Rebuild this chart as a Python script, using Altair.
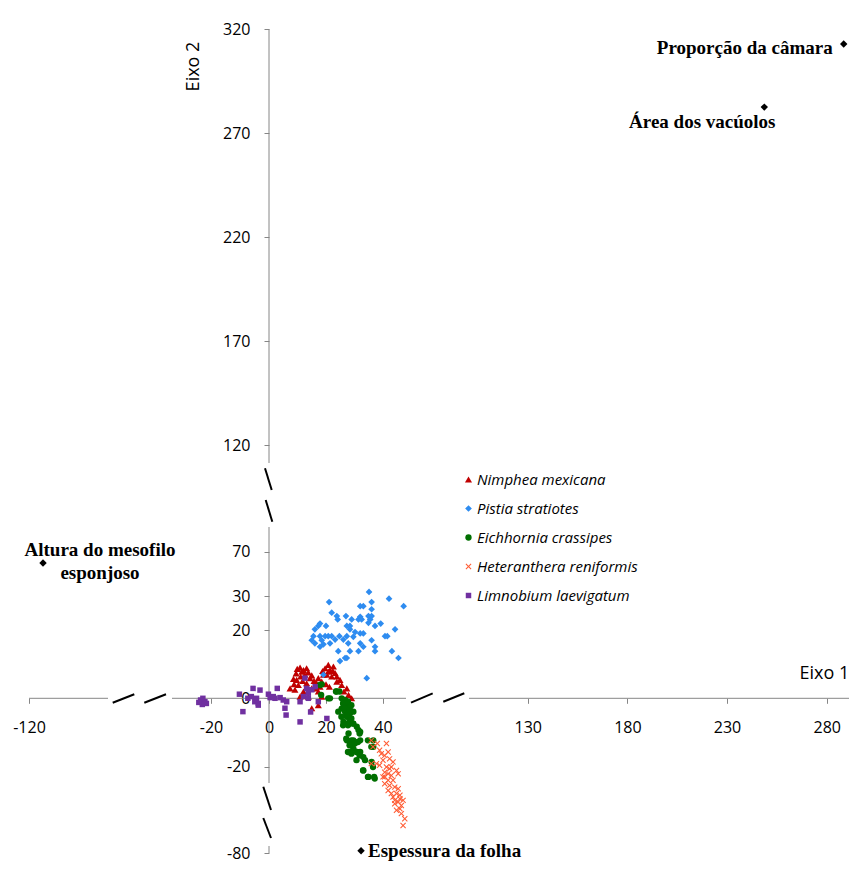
import altair as alt
import pandas as pd

# ---------------- data ----------------
species = ["Nimphea mexicana", "Pistia stratiotes", "Eichhornia crassipes",
           "Heteranthera reniformis", "Limnobium laevigatum"]
colors = ["#C00000", "#2E8CF0", "#006F00", "#FF5B33", "#7030A0"]

nimphea = [(9.9, 8.6), (10.9, 9.0), (12.1, 8.3), (9.5, 7.3), (12.6, 6.9), (11.1, 6.4), (13.8, 7.6),
           (14.4, 5.9), (15.8, 5.1), (16.7, 4.4), (8.8, 4.1), (10.3, 3.9), (13.2, 4.4), (15.0, 2.9),
           (16.5, 2.9), (17.9, 3.4), (12.1, 2.0), (10.9, 0.5), (13.8, 0.5), (17.3, 2.0), (15.0, -2.9),
           (17.3, -2.0), (18.8, 8.0), (19.7, 8.8), (20.8, 9.8), (21.4, 8.3), (22.6, 9.3), (20.3, 6.9),
           (22.0, 6.4), (23.2, 7.4), (23.8, 4.9), (24.9, 5.4), (25.5, 3.9), (27.3, 2.9), (26.3, 2.0),
           (27.9, 1.0), (29.0, 0.0), (21.2, 3.4), (20.0, 4.1), (18.5, 0.5), (8.6, 5.7), (7.4, 2.9),
           (9.1, 2.5), (11.5, 7.8), (13.2, 8.8), (15.0, 6.7), (19.1, 6.9), (20.8, 7.8), (22.4, 8.0),
           (23.8, 6.4), (9.7, 5.4), (11.8, 5.1), (18.5, 4.9), (17.3, 5.9)]

pistia = [(35.1, 31.2), (42.1, 29.2), (21.1, 28.2), (47.2, 27.0), (32.0, 27.0), (33.1, 27.0),
          (36.0, 28.2), (36.0, 26.1), (22.0, 25.1), (23.8, 24.1), (24.1, 23.1), (27.0, 24.1),
          (29.0, 23.1), (31.4, 23.1), (32.0, 23.9), (32.5, 23.1), (34.9, 24.1), (35.5, 23.1),
          (36.0, 24.1), (34.9, 22.1), (37.2, 21.2), (39.2, 21.9), (17.9, 21.9), (17.3, 21.2),
          (20.0, 21.2), (16.1, 20.2), (27.3, 21.2), (28.4, 21.2), (28.4, 20.2), (30.2, 19.4),
          (27.3, 18.2), (32.0, 19.0), (33.1, 19.0), (24.7, 18.2), (40.7, 18.2), (41.5, 18.2),
          (44.2, 20.2), (15.6, 18.2), (17.9, 18.2), (19.7, 18.2), (20.8, 18.2), (22.0, 18.2),
          (23.2, 17.2), (26.1, 17.2), (29.6, 18.0), (15.0, 17.0), (18.5, 17.0), (16.1, 16.1),
          (19.1, 15.8), (21.4, 16.1), (27.8, 16.1), (32.0, 16.1), (36.0, 17.0), (37.2, 15.1),
          (37.2, 13.8), (33.1, 15.1), (17.9, 15.1), (24.3, 13.8), (28.4, 13.8), (31.4, 13.8),
          (43.1, 13.8), (27.3, 11.8), (24.9, 10.9), (45.4, 11.8), (34.3, 5.9), (19.1, 6.9),
          (26.7, 11.8)]

eichhornia = [(17.9, 3.9), (18.3, 1.0), (20.8, 0.0), (23.5, 2.0), (24.7, 2.0), (25.5, 0.0), (26.7, -0.5),
              (18.5, 4.1), (21.4, 0.0), (23.7, 2.0), (26.1, -1.5), (27.3, -2.0), (28.4, -2.5), (25.5, -3.0),
              (24.3, -3.9), (26.7, -3.9), (28.4, -4.4), (29.6, -3.9), (27.3, -5.4), (28.4, -6.4),
              (26.1, -6.9), (27.3, -7.4), (28.4, -7.4), (29.6, -7.4), (30.8, -8.3), (31.4, -9.3),
              (32.0, -9.8), (27.3, -12.3), (28.4, -12.8), (29.6, -12.3), (30.8, -12.8), (32.0, -12.3),
              (28.4, -13.7), (29.6, -14.7), (28.4, -15.7), (30.8, -15.7), (32.0, -15.7), (33.1, -17.2),
              (33.7, -18.1), (36.6, -12.3), (36.6, -14.2), (36.0, -18.6), (33.1, -21.1), (34.9, -23.0),
              (36.9, -23.0), (26.0, -1.5), (27.7, -1.0), (28.9, -2.0), (26.6, -3.0), (28.3, -3.4),
              (27.1, -4.9), (25.4, -5.4), (28.9, -5.9), (29.5, -7.4), (27.7, -7.9), (26.0, -7.9),
              (27.9, -10.3), (31.8, -10.3), (27.1, -11.8), (28.9, -12.3), (30.1, -13.2), (28.3, -13.7),
              (31.2, -12.8), (27.7, -15.7), (28.9, -16.2), (30.7, -15.7), (31.8, -16.7), (30.7, -18.1),
              (34.7, -12.3), (35.9, -14.2), (33.0, -21.1), (36.5, -20.1), (34.7, -23.0), (37.1, -23.5)]

heteranthera = [(35.9, -12.3), (38.0, -13.2), (41.2, -13.2), (41.8, -15.7), (38.8, -15.2), (40.6, -16.7),
                (42.3, -17.7), (40.0, -18.1), (43.5, -18.6), (35.9, -19.1), (37.7, -19.1), (38.8, -19.6),
                (41.2, -20.1), (42.3, -20.6), (44.7, -21.1), (40.6, -21.6), (41.8, -22.1), (42.9, -22.6),
                (45.3, -22.1), (40.0, -23.0), (41.8, -24.0), (43.5, -24.0), (40.6, -25.0), (42.3, -25.5),
                (44.1, -26.0), (45.3, -26.5), (41.8, -27.0), (42.9, -27.9), (44.7, -27.9), (43.5, -28.9),
                (45.9, -29.4), (47.0, -29.9), (45.3, -30.4), (44.1, -30.9), (46.4, -31.4), (45.9, -32.4),
                (44.7, -32.8), (46.4, -33.8), (47.6, -35.3), (47.0, -37.3), (36.5, -14.2), (39.4, -16.2),
                (42.9, -20.1), (40.6, -23.0), (44.1, -29.9), (45.9, -28.4)]

limnobium = [(-23.6, -0.5), (-22.8, 0.0), (-22.1, -1.0), (-23.0, -1.8), (-21.6, -1.5), (-24.2, -1.2),
             (-5.5, 2.9), (-3.1, 2.4), (-10.2, 1.2), (-7.3, 0.0), (-6.1, 0.5), (-4.3, 0.0), (-3.7, -1.5),
             (-4.9, -1.0), (-9.0, -3.9), (-3.7, -2.0), (-0.2, 1.2), (0.4, 0.2), (2.1, 0.0), (2.9, 2.9),
             (3.9, 0.2), (5.0, -0.5), (6.2, -1.0), (5.6, -2.9), (6.0, -4.9), (1.5, 0.5), (10.9, -1.0),
             (12.1, 0.5), (13.2, 2.9), (13.8, 1.5), (15.0, 2.5), (16.2, 3.4), (12.6, 5.9), (10.9, -6.9),
             (17.3, -1.0), (20.3, -5.9), (13.8, 0.0), (14.6, -4.0)]

variables = ["Proporção da câmara", "Área dos vacúolos", "Altura do mesofilo\nesponjoso", "Espessura da folha"]
var_x = [288.5, 248.7, -111.4, 32.3]
var_y = [312.9, 282.6, 55.5, -75.0]

x_ticks = [-120, -20, 0, 20, 40, 130, 180, 230, 280]
y_ticks = [-80, -20, 0, 20, 30, 70, 120, 170, 220, 270, 320]

# ---------------- layout (broken axes as piecewise scales) ----------------
W, H = 841, 854
x_dom = [-130, -120, -35, -20, 0, 40, 55, 130, 280, 300]
x_rng = [4.7, 21, 159.5, 203, 261, 375, 418, 519.7, 818.7, 858.7]
y_dom = [-90, -80, -40, -20, 0, 20, 30, 35, 70, 120, 320, 335]
y_rng = [852, 845, 826.7, 758.7, 690.3, 622, 588, 571, 543.7, 437.3, 21.3, -9.9]

X0_PX = 261.0    # pixel of x = 0
Y0_PX = 690.3    # pixel of y = 0

shapes = ["triangle-up", "diamond", "circle",
          "M-1,-0.75L-0.75,-1L0,-0.25L0.75,-1L1,-0.75L0.25,0L1,0.75L0.75,1L0,0.25L-0.75,1L-1,0.75L-0.25,0Z",
          "square"]
sizes = [50, 30, 30, 50, 24]

rows = []
for name, pts in zip(species, [nimphea, pistia, eichhornia, heteranthera, limnobium]):
    for x, y in pts:
        rows.append({"x": x, "y": y, "species": name})
df = pd.DataFrame(rows)
vdf = pd.DataFrame({"x": var_x, "y": var_y, "label": variables})

FONT = "Open Sans"
LABEL = "'' + datum.value"
x_axis = alt.Axis(values=x_ticks, orient="bottom", offset=Y0_PX - H, domain=False, grid=False,
                  tickColor="#868686", tickSize=5, labelPadding=16, labelFont=FONT, labelFontSize=16,
                  labelColor="black", labelFlush=False, labelOverlap=False, labelExpr=LABEL,
                  title="Eixo 1", titleX=791, titleY=-25, titleAlign="left", titleBaseline="middle",
                  titleFont=FONT, titleFontSize=18, titleFontWeight="normal", titleColor="black")
y_axis = alt.Axis(values=y_ticks, orient="left", offset=-X0_PX, domain=False, grid=False,
                  tickColor="#868686", tickSize=5, labelPadding=14, labelFont=FONT, labelFontSize=16,
                  labelColor="black", labelFlush=False, labelOverlap=False, labelExpr=LABEL,
                  title="Eixo 2", titleX=-76, titleY=58, titleAngle=270, titleAlign="center",
                  titleBaseline="middle", titleFont=FONT, titleFontSize=18, titleFontWeight="normal",
                  titleColor="black")

x_enc = alt.X("x:Q", scale=alt.Scale(domain=x_dom, range=x_rng, zero=False, nice=False), axis=x_axis)
y_enc = alt.Y("y:Q", scale=alt.Scale(domain=y_dom, range=y_rng, zero=False, nice=False), axis=y_axis)

leg = alt.Legend(title=None, orient="none", legendX=453, legendY=464, padding=0, symbolSize=34,
                 symbolStrokeWidth=0, labelFont=FONT, labelFontSize=15, labelFontStyle="italic",
                 labelColor="black", rowPadding=13, labelOffset=1, labelLimit=400)

points = alt.Chart(df).mark_point(filled=True, opacity=1).encode(
    x=x_enc, y=y_enc,
    color=alt.Color("species:N", scale=alt.Scale(domain=species, range=colors), legend=leg),
    shape=alt.Shape("species:N", scale=alt.Scale(domain=species, range=shapes), legend=leg),
    size=alt.Size("species:N", scale=alt.Scale(domain=species, range=sizes), legend=None),
)

diamonds = alt.Chart(vdf).mark_point(filled=True, shape="diamond", size=55, color="black", opacity=1).encode(
    x=x_enc, y=y_enc)


def label_layer(name, **kw):
    return alt.Chart(vdf).transform_filter(alt.datum.label == name).mark_text(
        font="Liberation Serif", fontWeight="bold", fontSize=19, color="black", baseline="middle",
        lineBreak="\n", lineHeight=23, **kw).encode(x=x_enc, y=y_enc, text="label:N")


texts = [
    label_layer(variables[0], align="right", dx=-11, dy=4),
    label_layer(variables[1], align="center", dx=-62, dy=15),
    label_layer(variables[2], align="center", dx=57, dy=-13),
    label_layer(variables[3], align="left", dx=7, dy=0),
]

# axis lines with gaps, and break marks (decoration)
def seg(x1, y1, x2, y2, color, width):
    return alt.Chart(alt.Data(values=[{}])).mark_rule(color=color, strokeWidth=width).encode(
        x=alt.value(x1), x2=alt.value(x2), y=alt.value(y1), y2=alt.value(y2))


AX = "#868686"
decor = [
    seg(21, Y0_PX, 100, Y0_PX, AX, 1),
    seg(164, Y0_PX, 398, Y0_PX, AX, 1),
    seg(461, Y0_PX, 860, Y0_PX, AX, 1),
    seg(X0_PX, 21.3, X0_PX, 455, AX, 1),
    seg(X0_PX, 519, X0_PX, 775, AX, 1),
    seg(X0_PX, 838, X0_PX, 845, AX, 1),
    seg(104.7, 694.7, 126.3, 686.3, "black", 2),
    seg(136.3, 694.7, 158, 686.3, "black", 2),
    seg(403, 694.7, 424.7, 685.3, "black", 2),
    seg(435.3, 693.7, 456.3, 685.3, "black", 2),
    seg(257, 460.3, 263.7, 482, "black", 2),
    seg(257.7, 492, 264.3, 513.7, "black", 2),
    seg(255.3, 778.7, 263, 802, "black", 2),
    seg(255.3, 810, 263, 830, "black", 2),
]

chart = alt.layer(*decor, points, diamonds, *texts).properties(
    width=W, height=H, autosize=alt.AutoSizeParams(type="none"), padding=0, background="white"
).configure_view(stroke=None)

chart.save("out.html", embed_options={"renderer": "svg", "actions": False})
